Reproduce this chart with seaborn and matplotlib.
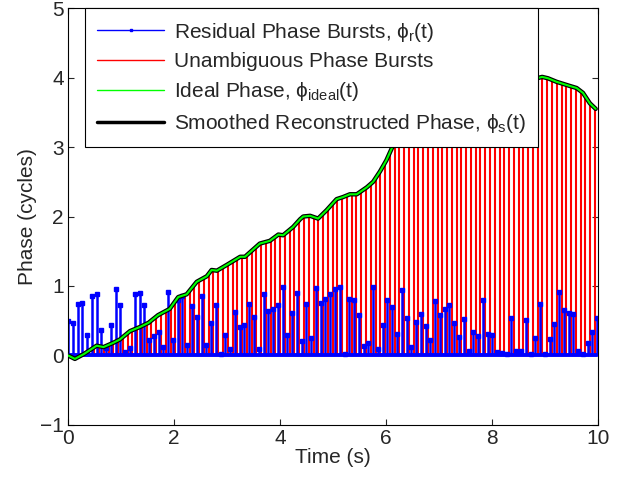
import numpy as np
import seaborn as sns
import matplotlib.pyplot as plt
from matplotlib.lines import Line2D

# residual phase bursts (cycles), one every 0.09 s starting at t = 0
resid = [0.495, 0.466, 0.736, 0.76, 0.30, 0.85, 0.88, 0.37, 0.10, 0.443,
         0.962, 0.73, 0.048, 0.10, 0.89, 0.90, 0.72, 0.216, 0.28, 0.336,
         0.125, 0.92, 0.226, 0.80, 0.86, 0.144, 0.707, 0.553, 0.851, 0.144,
         0.47, 0.72, 0.02, 0.29, 0.09, 0.625, 0.41, 0.433, 0.736, 0.558,
         0.087, 0.885, 0.645, 0.668, 0.73, 0.99, 0.298, 0.61, 0.895, 0.212,
         0.736, 0.245, 0.977, 0.75, 0.818, 0.885, 0.962, 0.99, 0.024, 0.813,
         0.803, 0.582, 0.135, 0.178, 0.986, 0.091, 0.443, 0.803, 0.703, 0.313,
         0.948, 0.544, 0.12, 0.476, 0.601, 0.423, 0.216, 0.779, 0.577, 0.664,
         0.726, 0.471, 0.264, 0.524, 0.062, 0.332, 0.274, 0.794, 0.313, 0.298,
         0.048, 0.03, 0.015, 0.544, 0.067, 0.057, 0.515, 0.02, 0.245, 0.745,
         0.015, 0.231, 0.457, 0.909, 0.649, 0.616, 0.601, 0.067, 0.02, 0.178,
         0.342, 0.538]

# unambiguous phase bursts (cycles)
unamb = [-0.02, -0.05, -0.03, 0.02, 0.08, 0.13, 0.14, 0.12, 0.15, 0.18,
         0.22, 0.26, 0.33, 0.37, 0.40, 0.42, 0.46, 0.50, 0.56, 0.61,
         0.64, 0.68, 0.78, 0.85, 0.87, 0.93, 1.02, 1.08, 1.12, 1.18,
         1.23, 1.23, 1.27, 1.31, 1.36, 1.40, 1.42, 1.44, 1.51, 1.57,
         1.62, 1.64, 1.66, 1.72, 1.74, 1.75, 1.81, 1.88, 1.95, 2.00,
         2.01, 1.99, 1.97, 2.04, 2.11, 2.19, 2.25, 2.28, 2.30, 2.32,
         2.32, 2.36, 2.41, 2.47, 2.55, 2.66, 2.79, 2.92, 3.05, 3.15,
         3.22, 3.28, 3.33, 3.36, 3.41, 3.45, 3.47, 3.50, 3.55, 3.58,
         3.60, 3.63, 3.67, 3.69, 3.70, 3.73, 3.77, 3.80, 3.81, 3.83,
         3.86, 3.89, 3.90, 3.91, 3.93, 3.96, 3.97, 3.98, 3.99, 4.01,
         4.00, 3.97, 3.94, 3.92, 3.90, 3.88, 3.86, 3.81, 3.74, 3.63,
         3.56]

# ideal / smoothed reconstructed phase
t_curve = [0, 0.13, 0.3, 0.54, 0.67, 0.85, 0.98, 1.17, 1.36, 1.52, 1.70, 1.92,
           2.08, 2.24, 2.43, 2.62, 2.71, 2.81, 2.99, 3.25, 3.34, 3.62, 3.81, 3.97,
           4.06, 4.25, 4.38, 4.44, 4.57, 4.72, 4.88, 5.07, 5.19, 5.32, 5.45, 5.64,
           5.76, 5.89, 6.01, 6.11, 6.25, 6.45, 6.7, 7.0, 7.3, 7.6, 7.9, 8.2, 8.5,
           8.8, 8.95, 9.06, 9.22, 9.47, 9.60, 9.72, 9.85, 9.96]
phase_ideal = [0, -0.05, 0.02, 0.14, 0.12, 0.18, 0.23, 0.35, 0.41, 0.47, 0.58, 0.67,
               0.84, 0.88, 1.06, 1.14, 1.23, 1.22, 1.30, 1.42, 1.42, 1.61, 1.65, 1.74,
               1.73, 1.85, 1.96, 2.0, 2.01, 1.97, 2.09, 2.25, 2.28, 2.32, 2.32, 2.42,
               2.50, 2.65, 2.81, 2.98, 3.15, 3.28, 3.41, 3.51, 3.62, 3.70, 3.80, 3.88, 3.93,
               3.98, 4.01, 3.99, 3.94, 3.88, 3.85, 3.78, 3.63, 3.55]
phase_smooth = list(phase_ideal)

dt = 0.09
t_burst = np.arange(len(resid)) * dt
t_unamb = np.arange(len(unamb)) * dt + dt / 2

sns.set_style("ticks")
plt.rcParams['font.family'] = ['Liberation Sans', 'DejaVu Sans']
plt.rcParams['mathtext.fontset'] = 'custom'
plt.rcParams['mathtext.rm'] = 'Liberation Sans'
plt.rcParams['mathtext.it'] = 'Liberation Sans'

fs = 15
fig = plt.figure(figsize=(6.24, 4.79), dpi=100)
ax = fig.add_axes([0.109, 0.113, 0.849, 0.870])

# stems
ax.vlines(t_unamb, 0, unamb, color='red', lw=1.5, zorder=1)
ax.vlines(t_burst, 0, resid, color='blue', lw=1.8, zorder=2)
ax.plot(t_burst, resid, 's', color='blue', ms=3.0, zorder=2)
ax.plot([t_burst[0], t_burst[-1]], [0, 0], color='blue', lw=2.8, zorder=3)

# phase curves
sns.lineplot(x=t_curve, y=phase_smooth, ax=ax, color='black', lw=3.2,
             sort=False, estimator=None, zorder=4)
sns.lineplot(x=t_curve, y=phase_ideal, ax=ax, color='#00ff00', lw=1.5,
             sort=False, estimator=None, zorder=5)

ax.set_xlim(0, 10)
ax.set_ylim(-1, 5)
ax.set_xticks(range(0, 11, 2))
ax.set_yticks(range(-1, 6))
ax.set_yticklabels(['\u22121', '0', '1', '2', '3', '4', '5'])
ax.tick_params(direction='in', top=True, right=True, length=4, width=0.8,
               labelsize=fs, pad=3)
for s in ax.spines.values():
    s.set_linewidth(0.8)
    s.set_color('black')
ax.set_xlabel('Time (s)', fontsize=fs, labelpad=0)
ax.set_ylabel('Phase (cycles)', fontsize=fs, labelpad=2)

handles = [
    Line2D([], [], color='blue', lw=1, marker='s', ms=2),
    Line2D([], [], color='red', lw=1),
    Line2D([], [], color='#00ff00', lw=1),
    Line2D([], [], color='black', lw=2.5),
]
labels = [r'Residual Phase Bursts, $\phi_{r}(t)$',
          'Unambiguous Phase Bursts',
          r'Ideal Phase, $\phi_{ideal}(t)$',
          r'Smoothed Reconstructed Phase, $\phi_{s}(t)$']
leg = ax.legend(handles, labels, loc='upper left', bbox_to_anchor=(0.032, 1.0),
                borderaxespad=0, fontsize=fs, handlelength=3.2, handletextpad=0.45,
                labelspacing=0.42, borderpad=0.6, fancybox=False, framealpha=1,
                edgecolor='black', numpoints=1)
leg.get_frame().set_linewidth(0.8)
leg.set_zorder(10)

plt.savefig('out.png', dpi=100)
plt.close()
